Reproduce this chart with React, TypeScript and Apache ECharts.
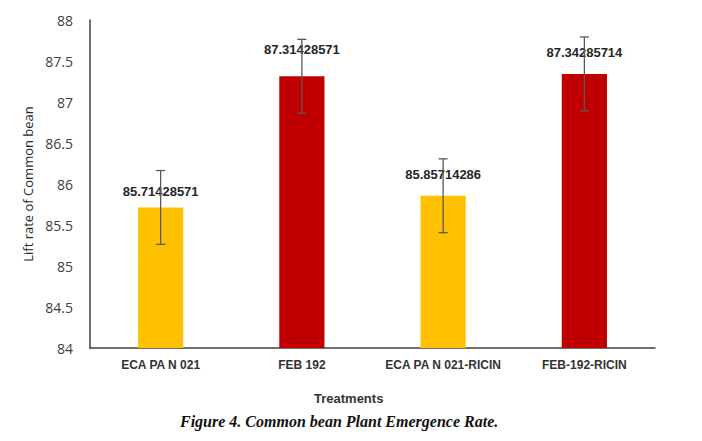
import React, { useEffect, useRef } from "react";
import * as echarts from "echarts";

const categories = ["ECA PA N 021", "FEB 192", "ECA PA N 021-RICIN", "FEB-192-RICIN"];
const values = [85.71428571, 87.31428571, 85.85714286, 87.34285714];
const errors = [0.45, 0.45, 0.45, 0.45];
const barColors = ["#FFC000", "#C00000", "#FFC000", "#C00000"];
const labelDistances = [9, 20, 15, 15];

export default function App() {
  const ref = useRef<HTMLDivElement>(null);
  useEffect(() => {
    if (!ref.current) return;
    const chart = echarts.init(ref.current, undefined, { renderer: "svg" });
    const barData = values.map((v, i) => ({
      value: v,
      itemStyle: { color: barColors[i] },
      label: { distance: labelDistances[i] },
    }));
    const errData = values.map((v, i) => [i, v - errors[i], v + errors[i]]);
    chart.setOption({
      animation: false,
      grid: { left: 90, right: 47, top: 20, bottom: 93, containLabel: false },
      xAxis: {
        type: "category",
        data: categories,
        axisLine: { lineStyle: { color: "#404040", width: 1.5 } },
        axisTick: { show: false },
        axisLabel: {
          interval: 0,
          color: "#333",
          fontWeight: "bold",
          fontSize: 12,
          fontFamily: "Liberation Sans",
          margin: 11,
        },
      },
      yAxis: {
        type: "value",
        min: 84,
        max: 88,
        interval: 0.5,
        name: "Lift rate of Common bean",
        nameLocation: "middle",
        nameGap: 56,
        nameTextStyle: { color: "#262626", fontSize: 13, fontFamily: "Open Sans" },
        axisLine: { show: true, lineStyle: { color: "#404040", width: 1.5 } },
        axisTick: { show: false },
        splitLine: { show: false },
        axisLabel: { color: "#404040", fontSize: 14, fontFamily: "Open Sans", margin: 17 },
      },
      series: [
        {
          type: "bar",
          data: barData,
          barWidth: "32%",
          label: {
            show: true,
            position: "top",
            color: "#262626",
            fontWeight: "bold",
            fontSize: 13,
            fontFamily: "Liberation Sans",
            formatter: (p: any) => String(p.value),
          },
        },
        {
          type: "custom",
          data: errData,
          z: 10,
          renderItem: (params: any, api: any) => {
            const x = api.value(0);
            const lo = api.coord([x, api.value(1)]);
            const hi = api.coord([x, api.value(2)]);
            const cap = 4.5;
            const style = { stroke: "#595959", lineWidth: 1.3 };
            return {
              type: "group",
              children: [
                { type: "line", shape: { x1: hi[0], y1: hi[1], x2: lo[0], y2: lo[1] }, style },
                { type: "line", shape: { x1: hi[0] - cap, y1: hi[1], x2: hi[0] + cap, y2: hi[1] }, style },
                { type: "line", shape: { x1: lo[0] - cap, y1: lo[1], x2: lo[0] + cap, y2: lo[1] }, style },
              ],
            };
          },
        },
      ],
      graphic: [
        {
          type: "text",
          left: 347 - 33,
          top: 392,
          style: {
            text: "Treatments",
            fill: "#333",
            font: "bold 13px 'Liberation Sans'",
          },
        },
        {
          type: "text",
          left: 180,
          top: 413,
          style: {
            text: "Figure 4. Common bean Plant Emergence Rate.",
            fill: "#111",
            font: "italic bold 16px 'Liberation Serif'",
          },
        },
      ],
    });
    return () => chart.dispose();
  }, []);
  return (
    <div
      ref={ref}
      style={{ position: "fixed", left: 0, top: 0, width: 702, height: 441, background: "#fff" }}
    />
  );
}
